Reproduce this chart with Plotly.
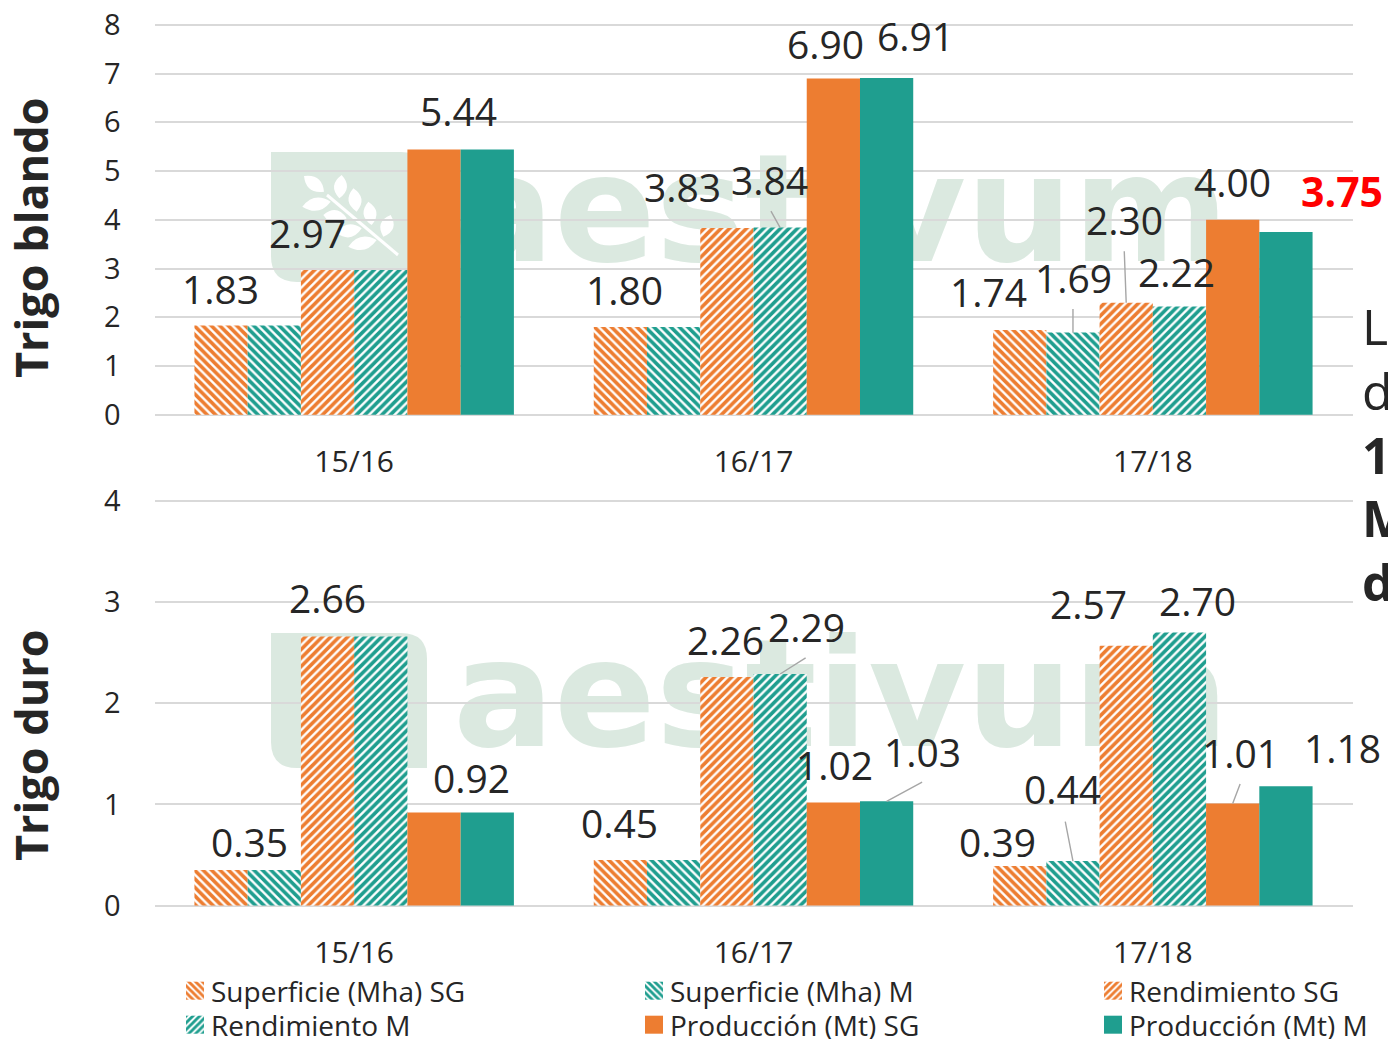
import plotly.graph_objects as go

categories = ["15/16", "16/17", "17/18"]
series_names = ["Superficie (Mha) SG", "Superficie (Mha) M", "Rendimiento SG",
                "Rendimiento M", "Producción (Mt) SG", "Producción (Mt) M"]

blando_sup_sg = [1.83, 1.80, 1.74]
blando_sup_m = [1.83, 1.80, 1.69]
blando_ren_sg = [2.97, 3.83, 2.30]
blando_ren_m = [2.97, 3.84, 2.22]
blando_pro_sg = [5.44, 6.90, 4.00]
blando_pro_m = [5.44, 6.91, 3.75]

duro_sup_sg = [0.35, 0.45, 0.39]
duro_sup_m = [0.35, 0.45, 0.44]
duro_ren_sg = [2.66, 2.26, 2.57]
duro_ren_m = [2.66, 2.29, 2.70]
duro_pro_sg = [0.92, 1.02, 1.01]
duro_pro_m = [0.92, 1.03, 1.18]

blando = [blando_sup_sg, blando_sup_m, blando_ren_sg, blando_ren_m, blando_pro_sg, blando_pro_m]
duro = [duro_sup_sg, duro_sup_m, duro_ren_sg, duro_ren_m, duro_pro_sg, duro_pro_m]

# label placement: (series, category, dx px, dy px)
blando_labels = [
    (0, 0, 0, -35), (2, 0, -19, -36), (4, 0, 25, -37),
    (0, 1, 5, -36), (2, 1, -43, -40), (3, 1, -10, -46),
    (4, 1, -7, -33), (5, 1, 30, -40),
    (0, 2, -30, -36), (1, 2, 2, -53), (2, 2, -1, -81),
    (3, 2, -2, -33), (4, 2, 1, -36), (5, 2, 57, -39),
]
duro_labels = [
    (0, 0, 29, -27), (2, 0, 1, -37), (4, 0, 38, -33),
    (0, 1, 0, -36), (2, 1, 0, -36), (3, 1, 27, -45),
    (4, 1, 2, -36), (5, 1, 37, -48),
    (0, 2, -21, -23), (1, 2, -9, -71), (2, 2, -37, -40),
    (3, 2, 19, -30), (4, 2, 9, -49), (5, 2, 58, -37),
]
# leader lines: (series, category, far-end dx px, far-end dy px)
blando_leaders = [(3, 1, -10, -18), (1, 2, 0, -25), (2, 2, -2, -53)]
duro_leaders = [(3, 1, 27, -17), (5, 1, 37, -20), (1, 2, -8, -41), (4, 2, 8, -21)]

ORANGE = "#ED7D31"
TEAL = "#1F9E8F"
GRID = "#D9D9D9"
INK = "#262626"
PALE = "#DBE9E0"
FONT = "Open Sans"
W, H = 1388, 1039
colors = [ORANGE, TEAL, ORANGE, TEAL, ORANGE, TEAL]
patterns = ["\\", "\\", "/", "/", "", ""]
legend_ids = ["legend", "legend2", "legend3", "legend4", "legend5", "legend6"]

fig = go.Figure()

# watermark subplot (pixel-space, drawn beneath the charts)
fig.add_trace(go.Scatter(
    x=[841, 841], y=[708, 223], mode="text", text=["aestivum", "aestivum"],
    textposition="middle center",
    textfont=dict(family="DejaVu Sans", size=150, color=PALE, weight="bold"),
    showlegend=False, hoverinfo="skip", xaxis="x", yaxis="y", cliponaxis=False))


def shield(t, b):
    L, R, r = 271, 427, 26
    return (f"M{L},{t}L{R-r},{t}Q{R},{t} {R},{t+r}L{R},{b}L{L+r},{b}Q{L},{b} {L},{b-r}Z")


def leaf(p, q, w=13):
    mx, my = (p[0] + q[0]) / 2, (p[1] + q[1]) / 2
    dx, dy = q[0] - p[0], q[1] - p[1]
    n = (dx * dx + dy * dy) ** 0.5
    nx, ny = -dy / n * w, dx / n * w
    return (f"M{p[0]},{p[1]}Q{mx+nx},{my+ny} {q[0]},{q[1]}"
            f"Q{mx-nx},{my-ny} {p[0]},{p[1]}Z")


shapes = [dict(type="path", path=shield(152, 282), fillcolor=PALE, line_width=0,
               xref="x", yref="y", layer="below"),
          dict(type="path", path=shield(633, 768), fillcolor=PALE, line_width=0,
               xref="x", yref="y", layer="below")]
leaves = [((485, 105), (478, 175)), ((520, 145), (530, 215)), ((565, 185), (575, 255)),
          ((632, 225), (610, 290)), ((372, 108), (432, 155)), ((367, 200), (452, 185)),
          ((430, 225), (500, 235)), ((470, 280), (545, 265)), ((505, 320), (590, 300))]
for a, b in leaves:
    p = (180 + a[0] / 3, 140 + a[1] / 3)
    q = (180 + b[0] / 3, 140 + b[1] / 3)
    shapes.append(dict(type="path", path=leaf(p, q), fillcolor="white", line_width=0,
                       xref="x", yref="y", layer="below"))
shapes.append(dict(type="line", x0=327, y0=195, x1=398, y1=255, xref="x", yref="y",
                   line=dict(color="white", width=3), layer="below"))


def add_bars(values, xa, ya, show):
    for i, vals in enumerate(values):
        marker = dict(color=colors[i], line=dict(width=0))
        if patterns[i]:
            marker = dict(color="white", line=dict(width=0),
                          pattern=dict(shape=patterns[i], fgcolor=colors[i], bgcolor="white",
                                       size=6, solidity=0.6, fillmode="replace"))
        fig.add_trace(go.Bar(x=categories, y=vals, name=series_names[i], marker=marker,
                             xaxis=xa, yaxis=ya, showlegend=show, legend=legend_ids[i],
                             hoverinfo="skip"))


add_bars(blando, "x2", "y2", True)
add_bars(duro, "x3", "y3", False)

ann = []


def bar_x(s, c):
    return c + (s - 2.5) * 0.8 / 6


def add_labels(values, labels, leaders, xa, ya):
    for s, c, dx, dy in leaders:
        ann.append(dict(x=bar_x(s, c), y=values[s][c], xref=xa, yref=ya, text="",
                        showarrow=True, ax=dx, ay=dy, arrowhead=0, arrowwidth=1.4,
                        arrowcolor="#A6A6A6", standoff=0, startstandoff=0))
    for s, c, dx, dy in labels:
        red = xa == "x2" and s == 5 and c == 2
        ann.append(dict(x=bar_x(s, c), y=values[s][c], xref=xa, yref=ya,
                        text=f"<b>{values[s][c]:.2f}</b>" if red else f"{values[s][c]:.2f}",
                        font=dict(family=FONT, size=41 if red else 39,
                                  color="#FF0000" if red else INK),
                        showarrow=False, xshift=dx - 1, yshift=-dy + 2,
                        xanchor="center", yanchor="middle"))


add_labels(blando, blando_labels, blando_leaders, "x2", "y2")
add_labels(duro, duro_labels, duro_leaders, "x3", "y3")

# axis titles
for txt, py in [("Trigo blando", 238), ("Trigo duro", 745)]:
    ann.append(dict(x=30 / W, y=1 - py / H, xref="paper", yref="paper", text=f"<b>{txt}</b>",
                    textangle=-90, showarrow=False, xanchor="center", yanchor="middle",
                    font=dict(family=FONT, size=45, color=INK)))

# cropped body text at the right edge of the picture
for txt, py in [("L", 326), ("d", 391), ("<b>17</b>", 455), ("<b>M</b>", 518), ("<b>d</b>", 582)]:
    ann.append(dict(x=1360 / W, y=1 - py / H, xref="paper", yref="paper", text=txt,
                    showarrow=False, xanchor="left", yanchor="middle",
                    font=dict(family=FONT, size=50, color=INK)))

xdom = [154.5 / W, 1352.5 / W]
common_x = dict(type="category", categoryorder="array", categoryarray=categories,
                domain=xdom, showline=False, showgrid=False,
                ticks="outside", ticklen=18, tickcolor="rgba(0,0,0,0)",
                tickfont=dict(family=FONT, size=30, color=INK), range=[-0.5, 2.5])
common_y = dict(showgrid=True, gridcolor=GRID, gridwidth=2, zeroline=True, zerolinecolor=GRID,
                zerolinewidth=2, showline=False, ticks="outside", ticklen=27,
                tickcolor="rgba(0,0,0,0)", tick0=0, dtick=1,
                tickfont=dict(family=FONT, size=29, color=INK))
legend_common = dict(orientation="v", xanchor="left", yanchor="top", bgcolor="rgba(0,0,0,0)",
                     font=dict(family=FONT, size=28, color=INK), itemwidth=30,
                     itemclick=False, itemdoubleclick=False, borderwidth=0)

# two extra pixels beyond each end so that the end gridlines are kept
TOP_UNIT = 48.75
BOT_UNIT = 101.1
TOP_Y0, BOT_Y0 = 414.8, 905.5
pad = 2
fig.update_layout(
    width=W, height=H, margin=dict(l=0, r=0, t=0, b=0, pad=0, autoexpand=False),
    paper_bgcolor="white", plot_bgcolor="rgba(0,0,0,0)",
    barmode="group", bargap=0.2, bargroupgap=0, shapes=shapes, annotations=ann,
    font=dict(family=FONT, color=INK),
    xaxis=dict(domain=[0, 1], range=[0, W], visible=False, fixedrange=True),
    yaxis=dict(domain=[0, 1], range=[H, 0], visible=False, fixedrange=True),
    xaxis2=dict(anchor="y2", **common_x),
    yaxis2=dict(anchor="x2",
                domain=[1 - (TOP_Y0 + pad) / H, 1 - (TOP_Y0 - 8 * TOP_UNIT - pad) / H],
                range=[-pad / TOP_UNIT, 8 + pad / TOP_UNIT], **common_y),
    xaxis3=dict(anchor="y3", **common_x),
    yaxis3=dict(anchor="x3",
                domain=[1 - (BOT_Y0 + pad) / H, 1 - (BOT_Y0 - 4 * BOT_UNIT - pad) / H],
                range=[-pad / BOT_UNIT, 4 + pad / BOT_UNIT], **common_y),
    legend=dict(x=171 / W, y=1 - 966 / H, **legend_common),
    legend2=dict(x=630 / W, y=1 - 966 / H, **legend_common),
    legend3=dict(x=1089 / W, y=1 - 966 / H, **legend_common),
    legend4=dict(x=171 / W, y=1 - 1000 / H, **legend_common),
    legend5=dict(x=630 / W, y=1 - 1000 / H, **legend_common),
    legend6=dict(x=1089 / W, y=1 - 1000 / H, **legend_common),
)

post = """
document.body.style.margin='0';document.body.style.overflow='hidden';
(function(){
  var fix=function(){document.querySelectorAll('g.legendpoints path').forEach(function(p){p.setAttribute('d','M13,9H-5V-9H13Z');});};
  fix();var n=0;var t=setInterval(function(){fix();if(++n>40)clearInterval(t);},50);
})();
"""
fig.write_html("out.html", post_script=post, config=dict(displayModeBar=False))
